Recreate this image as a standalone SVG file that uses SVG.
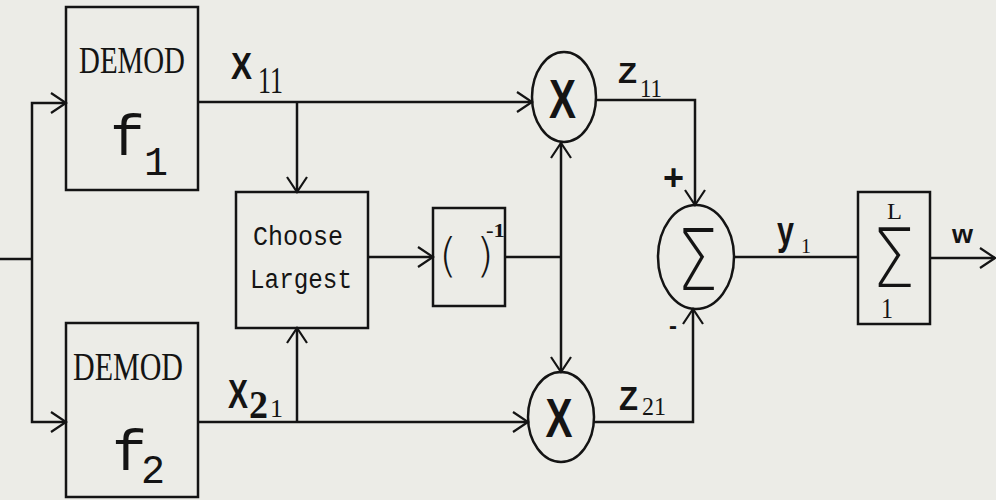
<svg xmlns="http://www.w3.org/2000/svg" width="996" height="500" viewBox="0 0 996 500">
<style>
.bx{fill:none;stroke:#141414;stroke-width:2.5}
.ln{fill:none;stroke:#141414;stroke-width:2.5}
.ar{marker-end:url(#arr)}
.t{fill:#141414}
.serif{font-family:"Liberation Serif",serif}
.mono{font-family:"Liberation Mono",monospace}
.sans{font-family:"Liberation Sans",sans-serif}
.thin{font-family:"DejaVu Sans",sans-serif;font-weight:200}
</style>
<defs>
<marker id="arr" viewBox="-17 -12 19 24" markerWidth="19" markerHeight="24" refX="0" refY="0" orient="auto" markerUnits="userSpaceOnUse">
<path d="M-15,-10 L0,0 L-15,10" fill="none" stroke="#141414" stroke-width="2.2"/>
</marker>
</defs>
<rect width="996" height="500" fill="#ecece7"/>
<g id="connectors">
<path class="ln" d="M0,259 H32"/>
<path class="ln ar" d="M32,259 V103 H66"/>
<path class="ln ar" d="M32,259 V422 H66"/>
<path class="ln ar" d="M198,102 H532"/>
<path class="ln ar" d="M297,102 V192"/>
<path class="ln ar" d="M198,422 H528"/>
<path class="ln ar" d="M297,422 V328"/>
<path class="ln ar" d="M368,257 H433"/>
<path class="ln" d="M505,257 H561"/>
<path class="ln ar" d="M561,257 V143"/>
<path class="ln ar" d="M561,257 V372"/>
<path class="ln ar" d="M596,100 H695 V205"/>
<path class="ln ar" d="M594,422 H693 V309"/>
<path class="ln" d="M734,257 H858"/>
<path class="ln ar" d="M930,258 H995"/>
</g>
<g id="demod1">
<rect class="bx" x="66" y="7" width="132" height="183"/>
<text class="t serif" x="79" y="73" font-size="38" textLength="106" lengthAdjust="spacingAndGlyphs">DEMOD</text>
<text class="t mono" x="110" y="155" font-size="58">f</text>
<text class="t mono" x="144" y="175" font-size="40">1</text>
</g>
<g id="demod2">
<rect class="bx" x="66" y="323" width="132" height="174"/>
<text class="t serif" x="73" y="380" font-size="40" textLength="110" lengthAdjust="spacingAndGlyphs">DEMOD</text>
<text class="t mono" x="112" y="470" font-size="58">f</text>
<text class="t mono" x="141" y="483" font-size="40">2</text>
</g>
<g id="label-x11">
<text class="t sans" x="231" y="79" font-size="37" font-weight="bold" textLength="21" lengthAdjust="spacingAndGlyphs">X</text>
<text class="t serif" x="258" y="93" font-size="38" textLength="25" lengthAdjust="spacingAndGlyphs">11</text>
</g>
<g id="label-x21">
<text class="t sans" x="228" y="408" font-size="40" font-weight="bold" textLength="20" lengthAdjust="spacingAndGlyphs">X</text>
<text class="t serif" x="249" y="418" font-size="40" font-weight="bold" textLength="19" lengthAdjust="spacingAndGlyphs">2</text>
<text class="t serif" x="270" y="417" font-size="26" textLength="13" lengthAdjust="spacingAndGlyphs">1</text>
</g>
<g id="choose">
<rect class="bx" x="236" y="192" width="132" height="136"/>
<text class="t mono" x="253" y="245" font-size="27" textLength="90" lengthAdjust="spacingAndGlyphs">Choose</text>
<text class="t mono" x="250" y="288" font-size="27" textLength="102" lengthAdjust="spacingAndGlyphs">Largest</text>
</g>
<g id="inverse">
<rect class="bx" x="433" y="208" width="72" height="98"/>
<text class="t thin" x="439" y="271" font-size="46">(</text>
<text class="t thin" x="476" y="271" font-size="46">)</text>
<text class="t serif" x="486" y="237" font-size="18" font-weight="bold" textLength="19" lengthAdjust="spacingAndGlyphs">-1</text>
</g>
<g id="mult1">
<ellipse class="bx" cx="564" cy="97" rx="32" ry="45"/>
<text class="t sans" x="562.5" y="118" font-size="56" font-weight="bold" text-anchor="middle" textLength="27" lengthAdjust="spacingAndGlyphs">X</text>
</g>
<g id="mult2">
<ellipse class="bx" cx="561" cy="417" rx="33" ry="45"/>
<text class="t sans" x="559" y="437" font-size="56" font-weight="bold" text-anchor="middle" textLength="27" lengthAdjust="spacingAndGlyphs">X</text>
</g>
<g id="label-z11">
<text class="t sans" x="618" y="83" font-size="29" font-weight="bold" textLength="19" lengthAdjust="spacingAndGlyphs">Z</text>
<text class="t serif" x="640" y="97" font-size="26" textLength="22" lengthAdjust="spacingAndGlyphs">11</text>
</g>
<g id="label-z21">
<text class="t sans" x="619" y="410" font-size="34" font-weight="bold" textLength="19" lengthAdjust="spacingAndGlyphs">Z</text>
<text class="t serif" x="642" y="415" font-size="26" textLength="24" lengthAdjust="spacingAndGlyphs">21</text>
</g>
<g id="summer">
<ellipse class="bx" cx="696" cy="257" rx="38" ry="52"/>
<text class="t thin" x="677" y="290" font-size="86" textLength="41" lengthAdjust="spacingAndGlyphs">Σ</text>
<text class="t sans" x="663" y="190" font-size="36" font-weight="bold">+</text>
<text class="t sans" x="669" y="334" font-size="24" font-weight="bold">-</text>
</g>
<g id="label-y1">
<text class="t sans" x="777" y="245" font-size="40" font-weight="bold" textLength="17" lengthAdjust="spacingAndGlyphs">y</text>
<text class="t serif" x="801" y="253" font-size="20" textLength="10" lengthAdjust="spacingAndGlyphs">1</text>
</g>
<g id="accumulator">
<rect class="bx" x="858" y="192" width="72" height="132"/>
<text class="t serif" x="887" y="219" font-size="24" textLength="15" lengthAdjust="spacingAndGlyphs">L</text>
<text class="t thin" x="872" y="287" font-size="82" textLength="43" lengthAdjust="spacingAndGlyphs">Σ</text>
<text class="t serif" x="881" y="318" font-size="30" textLength="12" lengthAdjust="spacingAndGlyphs">1</text>
</g>
<g id="label-w">
<text class="t sans" x="952" y="243" font-size="26" font-weight="bold" textLength="21" lengthAdjust="spacingAndGlyphs">w</text>
</g>
</svg>
